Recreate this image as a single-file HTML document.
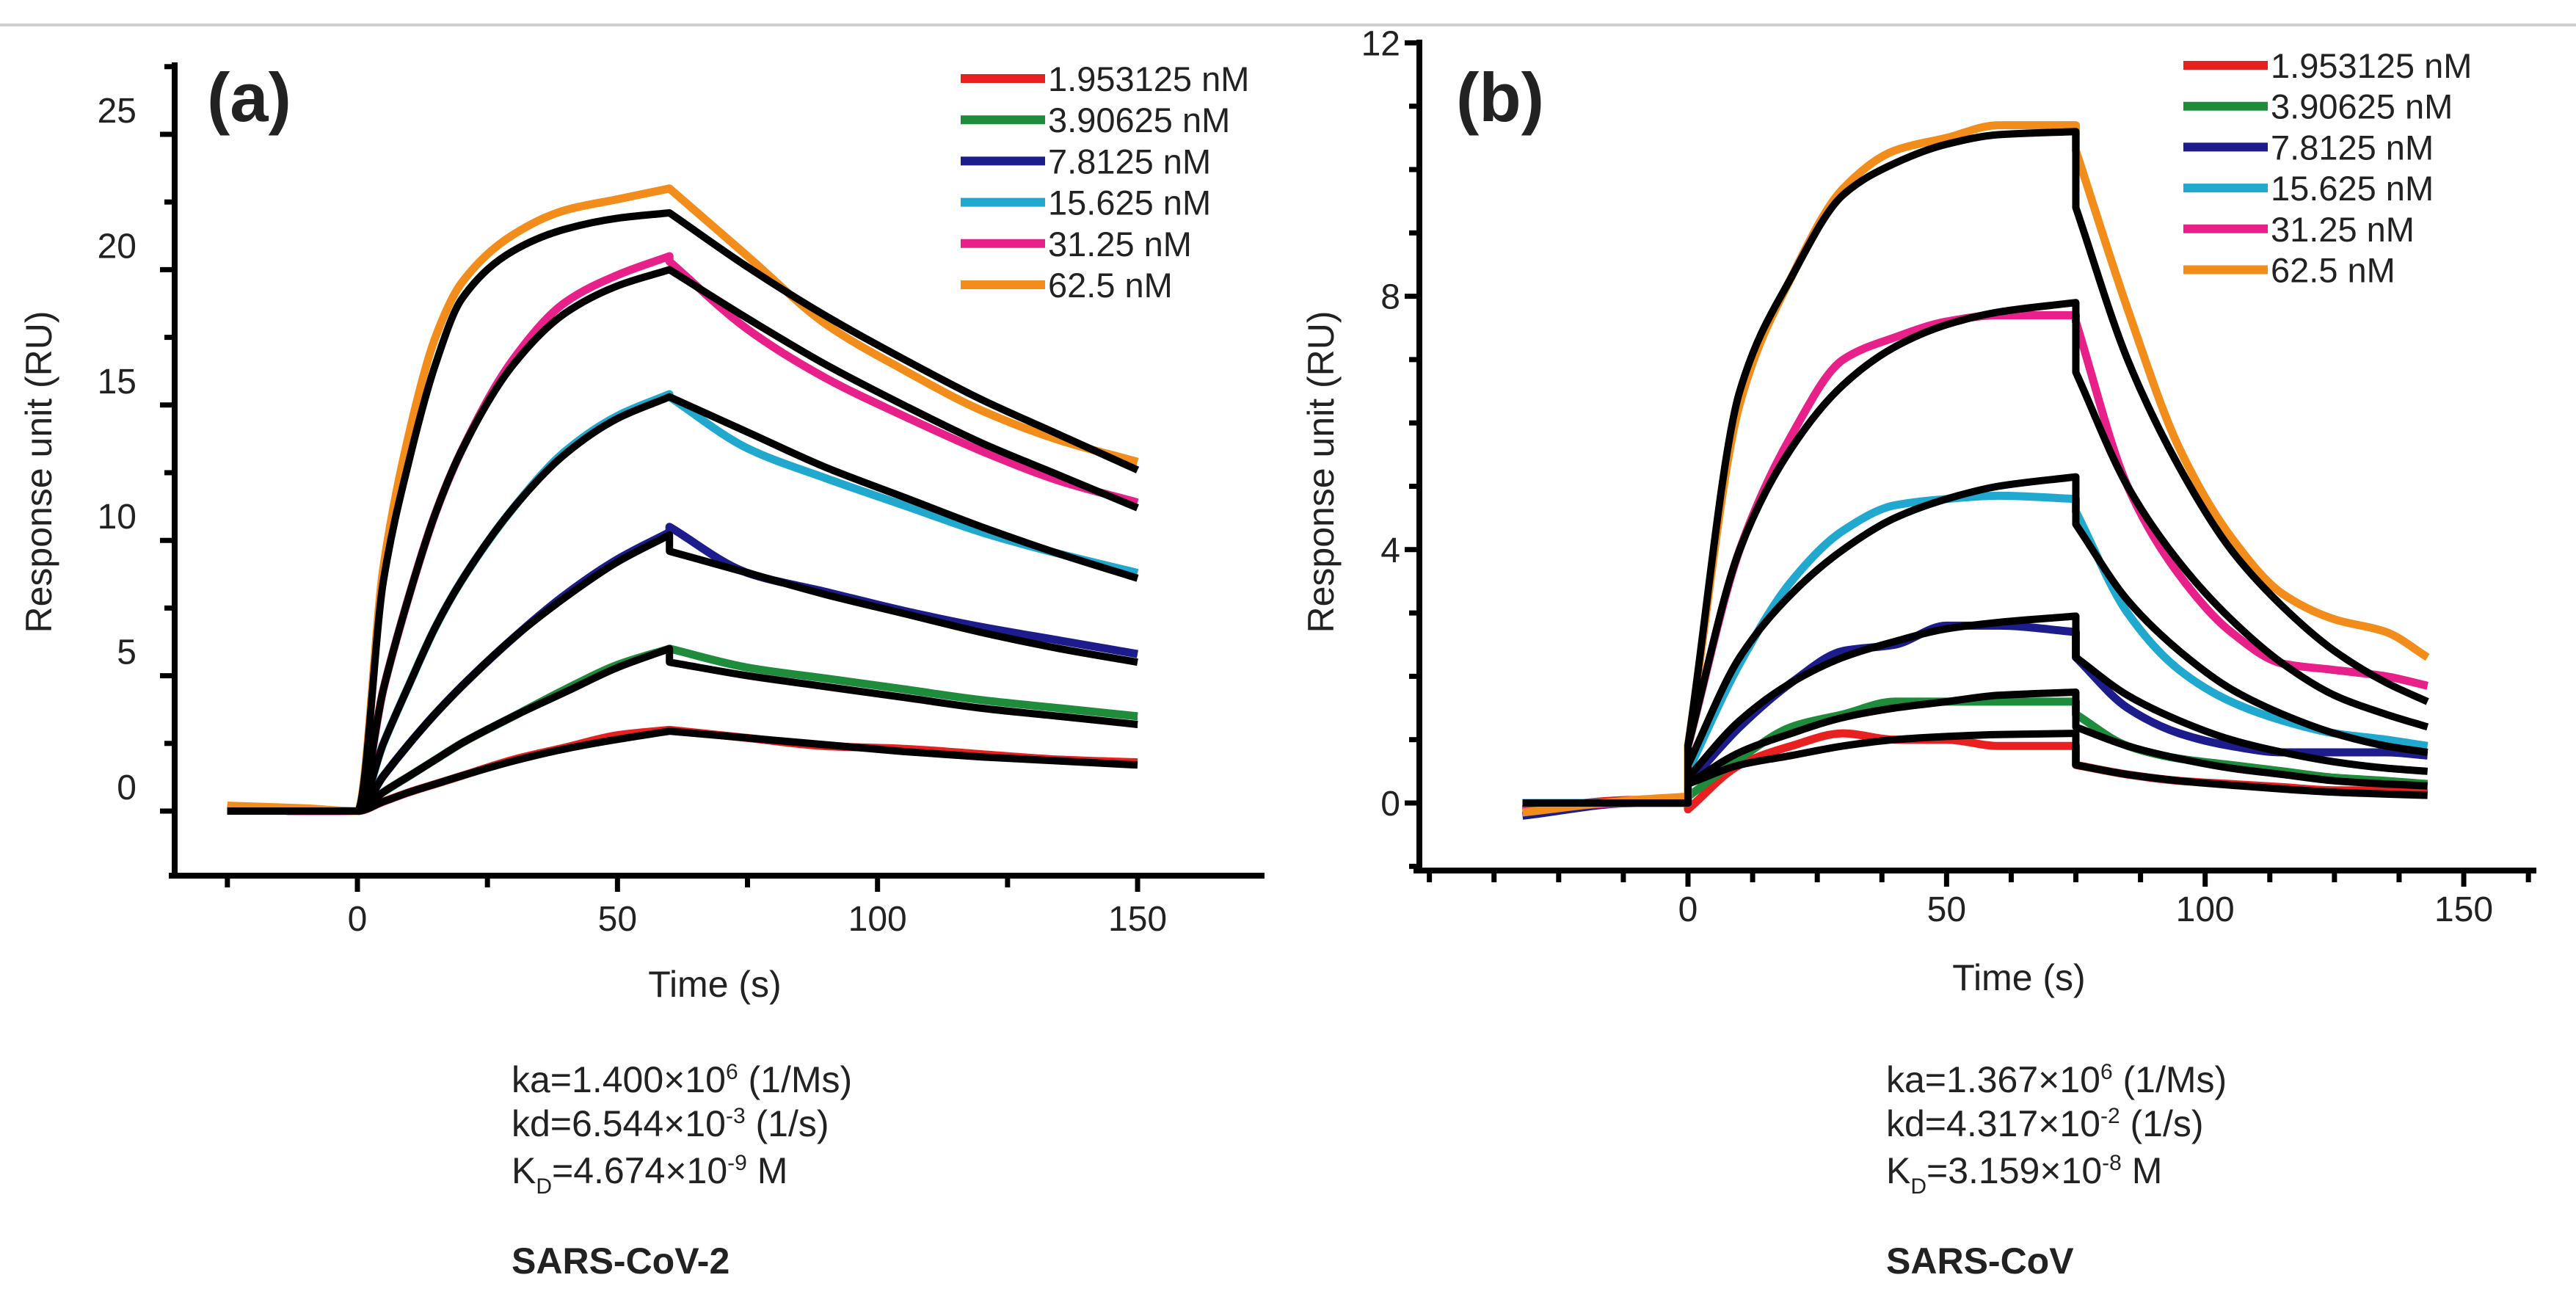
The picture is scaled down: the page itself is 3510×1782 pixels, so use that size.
<!DOCTYPE html>
<html><head><meta charset="utf-8"><style>
html,body{margin:0;padding:0;background:#fff}
svg{display:block}
text{font-family:"Liberation Sans",Arial,sans-serif;fill:#222}
</style></head><body>
<svg id="fig" width="3510" height="1782" viewBox="0 0 3510 1782" xmlns="http://www.w3.org/2000/svg">
<line x1="0" y1="34" x2="3510" y2="34" stroke="#cfcfcf" stroke-width="4"/>
<g id="pa"></g>
<g id="pb"></g>
<g font-size="50">
<text x="697" y="1488">ka=1.400×10<tspan dy="-18" font-size="30">6</tspan><tspan dy="18"> (1/Ms)</tspan></text>
<text x="697" y="1548">kd=6.544×10<tspan dy="-18" font-size="30">-3</tspan><tspan dy="18"> (1/s)</tspan></text>
<text x="697" y="1612">K<tspan dy="14" font-size="30">D</tspan><tspan dy="-14">=4.674×10</tspan><tspan dy="-18" font-size="30">-9</tspan><tspan dy="18"> M</tspan></text>
<text x="697" y="1735" font-weight="bold">SARS-CoV-2</text>
</g>
<g font-size="50">
<text x="2570" y="1488">ka=1.367×10<tspan dy="-18" font-size="30">6</tspan><tspan dy="18"> (1/Ms)</tspan></text>
<text x="2570" y="1548">kd=4.317×10<tspan dy="-18" font-size="30">-2</tspan><tspan dy="18"> (1/s)</tspan></text>
<text x="2570" y="1612">K<tspan dy="14" font-size="30">D</tspan><tspan dy="-14">=3.159×10</tspan><tspan dy="-18" font-size="30">-8</tspan><tspan dy="18"> M</tspan></text>
<text x="2570" y="1735" font-weight="bold">SARS-CoV</text>
</g>
</svg>
<script>
const labels = ["1.953125 nM","3.90625 nM","7.8125 nM","15.625 nM","31.25 nM","62.5 nM"];
const colors = ["#e8201f","#1e8c3a","#1c1c8c","#21a8cf","#e8218a","#f28c1a"];
// Panel A
const timesA = [-25,-10,0,5,10,15,20,30,40,50,60,60,75,90,105,120,135,150];
const fitA = [
 [0,0,0,0.35,0.7,1.0,1.3,1.85,2.3,2.65,2.95,2.95,2.7,2.45,2.2,2.0,1.85,1.7],
 [0,0,0,0.7,1.3,1.9,2.5,3.5,4.4,5.3,6.0,5.5,5.0,4.6,4.2,3.8,3.5,3.2],
 [0,0,0,1.3,2.5,3.6,4.6,6.4,7.9,9.2,10.2,9.6,8.8,8.0,7.3,6.6,6.0,5.5],
 [0,0,0,2.5,4.7,6.8,8.5,11.2,13.2,14.5,15.3,15.3,14.0,12.7,11.6,10.5,9.5,8.6],
 [0,0,0,4.5,8,11,13.3,16.5,18.4,19.4,20.0,20.0,18.2,16.5,15.0,13.6,12.4,11.2],
 [0,0,0,8.5,13,16.5,18.9,20.7,21.5,21.9,22.1,22.1,20.1,18.3,16.7,15.2,13.9,12.6]
];
const dataA = [
 [0.1,0,0,0.35,0.7,1.0,1.3,1.9,2.35,2.8,3.0,3.0,2.7,2.4,2.3,2.1,1.9,1.8],
 [0.1,0,0,0.7,1.3,1.9,2.5,3.5,4.5,5.4,6.0,6.0,5.3,4.9,4.5,4.1,3.8,3.5],
 [0.1,0,0,1.3,2.5,3.6,4.6,6.4,8.0,9.3,10.3,10.5,8.8,8.1,7.4,6.8,6.3,5.8],
 [0.1,0,0,2.5,4.7,6.8,8.5,11.2,13.3,14.6,15.4,15.3,13.4,12.3,11.3,10.3,9.5,8.8],
 [0.1,0,0,4.5,8,11,13.3,16.7,18.8,19.8,20.5,20.3,17.8,16.0,14.6,13.3,12.2,11.4],
 [0.2,0.1,0,9,14,17.5,19.5,21.3,22.2,22.6,23.0,23.0,20.5,18.0,16.3,14.8,13.7,12.9]
];
const xTicksA = [0,50,100,150];
const yTicksA = [0,5,10,15,20,25];
// Panel B
const timesB = [-32,-10,0,0,10,20,30,40,50,60,75,75,85,95,105,115,125,135,143];
const fitB = [
 [0,0,0,0.3,0.6,0.75,0.9,1.0,1.05,1.08,1.1,0.6,0.45,0.35,0.28,0.22,0.17,0.14,0.12],
 [0,0,0,0.3,0.8,1.1,1.35,1.5,1.6,1.7,1.75,1.2,0.9,0.7,0.55,0.45,0.35,0.3,0.27],
 [0,0,0,0.4,1.3,1.9,2.3,2.55,2.75,2.85,2.95,2.3,1.7,1.3,1.0,0.8,0.65,0.55,0.5],
 [0,0,0,0.6,2.3,3.3,4.0,4.5,4.8,5.0,5.15,4.4,3.2,2.4,1.8,1.4,1.1,0.9,0.8],
 [0,0,0,0.9,4.0,5.6,6.6,7.2,7.55,7.75,7.9,6.8,5.0,3.8,2.9,2.2,1.7,1.4,1.2],
 [0,0,0,0.9,6.5,8.3,9.6,10.1,10.4,10.55,10.6,9.4,7.0,5.3,4.0,3.1,2.4,1.9,1.6]
];
const dataB = [
 [-0.1,0.05,0,-0.1,0.6,0.9,1.1,1.0,1.0,0.9,0.9,0.6,0.45,0.35,0.3,0.25,0.2,0.2,0.15],
 [-0.1,0,0,0.1,0.7,1.2,1.4,1.6,1.6,1.6,1.6,1.4,0.9,0.7,0.6,0.5,0.4,0.35,0.3],
 [-0.2,0,0,0.3,1.2,1.9,2.4,2.5,2.8,2.8,2.7,2.3,1.5,1.1,0.9,0.8,0.8,0.8,0.75],
 [0,0,0,0.5,2.2,3.5,4.3,4.7,4.8,4.85,4.8,4.6,3.0,2.1,1.6,1.3,1.1,1.0,0.9],
 [-0.1,0,0,0.9,4.0,5.8,7.0,7.35,7.6,7.7,7.7,7.6,5.0,3.6,2.7,2.2,2.1,2.0,1.85],
 [-0.15,0.05,0.1,0.9,6.3,8.3,9.7,10.3,10.5,10.7,10.7,10.3,7.8,5.6,4.2,3.3,2.9,2.7,2.3]
];
const xTicksB = [0,50,100,150];
const yTicksB = [0,4,8,12];

const NS = "http://www.w3.org/2000/svg";
function mk(parent, tag, attrs, txt){
  const e = document.createElementNS(NS, tag);
  for (const k in attrs) e.setAttribute(k, attrs[k]);
  if (txt !== undefined) e.textContent = txt;
  parent.appendChild(e);
  return e;
}
// monotone cubic (Fritsch-Carlson) path; vertical jumps where time repeats
function smoothPath(pts){
  const segs = [[pts[0]]];
  for (let i = 1; i < pts.length; i++){
    if (Math.abs(pts[i][0] - pts[i-1][0]) < 0.01) segs.push([pts[i]]);
    else segs[segs.length-1].push(pts[i]);
  }
  let d = "";
  const f = v => v.toFixed(1);
  segs.forEach((s, si) => {
    d += (si ? "L" : "M") + f(s[0][0]) + "," + f(s[0][1]);
    const n = s.length;
    if (n < 2) return;
    const dx = [], m = [], t = [];
    for (let i = 0; i < n-1; i++){ dx[i] = s[i+1][0]-s[i][0]; m[i] = (s[i+1][1]-s[i][1])/dx[i]; }
    t[0] = m[0]; t[n-1] = m[n-2];
    for (let i = 1; i < n-1; i++){
      if (m[i-1]*m[i] <= 0) t[i] = 0;
      else t[i] = 3*(dx[i-1]+dx[i]) / ((2*dx[i]+dx[i-1])/m[i-1] + (dx[i]+2*dx[i-1])/m[i]);
    }
    for (let i = 0; i < n-1; i++){
      const h = dx[i]/3;
      d += "C" + f(s[i][0]+h) + "," + f(s[i][1]+t[i]*h) + " " + f(s[i+1][0]-h) + "," + f(s[i+1][1]-t[i+1]*h) + " " + f(s[i+1][0]) + "," + f(s[i+1][1]);
    }
  });
  return d;
}
function drawPanel(g, cfg){
  const X = t => cfg.x0 + t * cfg.sx;
  const Y = v => cfg.y0 - v * cfg.sy;
  cfg.data.forEach((arr, i) => {
    const p = mk(g, "path", {d: smoothPath(arr.map((v,j)=>[X(cfg.times[j]), Y(v)])), fill:"none", stroke:colors[i], "stroke-width":11, "stroke-linejoin":"round"});
    
    
  });
  cfg.fit.forEach((arr, i) => {
    const p = mk(g, "path", {d: smoothPath(arr.map((v,j)=>[X(cfg.times[j]), Y(v)])), fill:"none", stroke:"#000", "stroke-width":10, "stroke-linejoin":"round"});
    
    
  });
  const ya = mk(g, "line", {x1:cfg.axX, y1:cfg.axTop, x2:cfg.axX, y2:cfg.axY+4, stroke:"#000", "stroke-width":8});
  
  
  const xa = mk(g, "line", {x1:cfg.axX-8, y1:cfg.axY, x2:cfg.axRight, y2:cfg.axY, stroke:"#000", "stroke-width":8});
  
  
  for (let t = cfg.xMinorStart; X(t) <= cfg.axRight + 1; t += cfg.xMinor){
    const major = cfg.xTicks.includes(t);
    mk(g, "line", {x1:X(t), y1:cfg.axY, x2:X(t), y2:cfg.axY + (major?22:16), stroke:"#000", "stroke-width":7});
  }
  cfg.xTicks.forEach(t => {
    const tx = mk(g, "text", {x:X(t), y:cfg.xLabY, "text-anchor":"middle", "font-size":48}, String(t));
    
    
  });
  for (let v = cfg.yMinorStart; Y(v) >= cfg.axTop - 1; v += cfg.yMinor){
    if (Y(v) > cfg.axY) continue;
    const major = cfg.yTicks.includes(v);
    mk(g, "line", {x1:cfg.axX, y1:Y(v), x2:cfg.axX - (major?20:14), y2:Y(v), stroke:"#000", "stroke-width":7});
  }
  cfg.yTicks.forEach(v => {
    const tx = mk(g, "text", {x:cfg.yLabX, y:Y(v)+cfg.yLabDy, "text-anchor":"end", "font-size":48}, String(v));
    
    
  });
  const xt = mk(g, "text", {x:cfg.xTitle[0], y:cfg.xTitle[1], "text-anchor":"middle", "font-size":50}, "Time (s)");
  
  
  const yt = mk(g, "text", {x:0, y:0, "text-anchor":"middle", "font-size":50, transform:`translate(${cfg.yTitle[0]},${cfg.yTitle[1]}) rotate(-90)`}, "Response unit (RU)");
  
  
  const pl = mk(g, "text", {x:cfg.tag[0], y:cfg.tag[1], "font-size":94, "font-weight":"bold", fill:"#000"}, cfg.tagText);
  
  
  labels.forEach((lab, i) => {
    const yy = cfg.leg[1] + i * cfg.legDy;
    const ln = mk(g, "line", {x1:cfg.leg[0], y1:yy, x2:cfg.leg[0]+115, y2:yy, stroke:colors[i], "stroke-width":12});
    
    
    const tx = mk(g, "text", {x:cfg.leg[0]+119, y:yy+17, "font-size":47}, lab);
    
    
  });
}
drawPanel(document.getElementById("pa"), {
  x0:487, sx:7.087, y0:1105, sy:36.88, times:timesA, data:dataA, fit:fitA,
  axX:238, axTop:85, axY:1193, axRight:1723, xMinorStart:-25, xMinor:25, xTicks:xTicksA, xLabY:1268,
  yMinorStart:-2.5, yMinor:2.5, yTicks:yTicksA, yLabX:186, yLabDy:-16,
  xTitle:[974,1358], yTitle:[70,643], tag:[282,165], tagText:"(a)", leg:[1309,107], legDy:56.2
});
drawPanel(document.getElementById("pb"), {
  x0:2300, sx:7.047, y0:1094, sy:86.3, times:timesB, data:dataB, fit:fitB,
  axX:1934, axTop:54, axY:1186, axRight:3456, xMinorStart:-50, xMinor:12.5, xTicks:xTicksB, xLabY:1255,
  yMinorStart:-1, yMinor:1, yTicks:yTicksB, yLabX:1908, yLabDy:17,
  xTitle:[2751,1349], yTitle:[1817,643], tag:[1984,165], tagText:"(b)", leg:[2975,89], legDy:55.7
});
</script>
</body></html>
